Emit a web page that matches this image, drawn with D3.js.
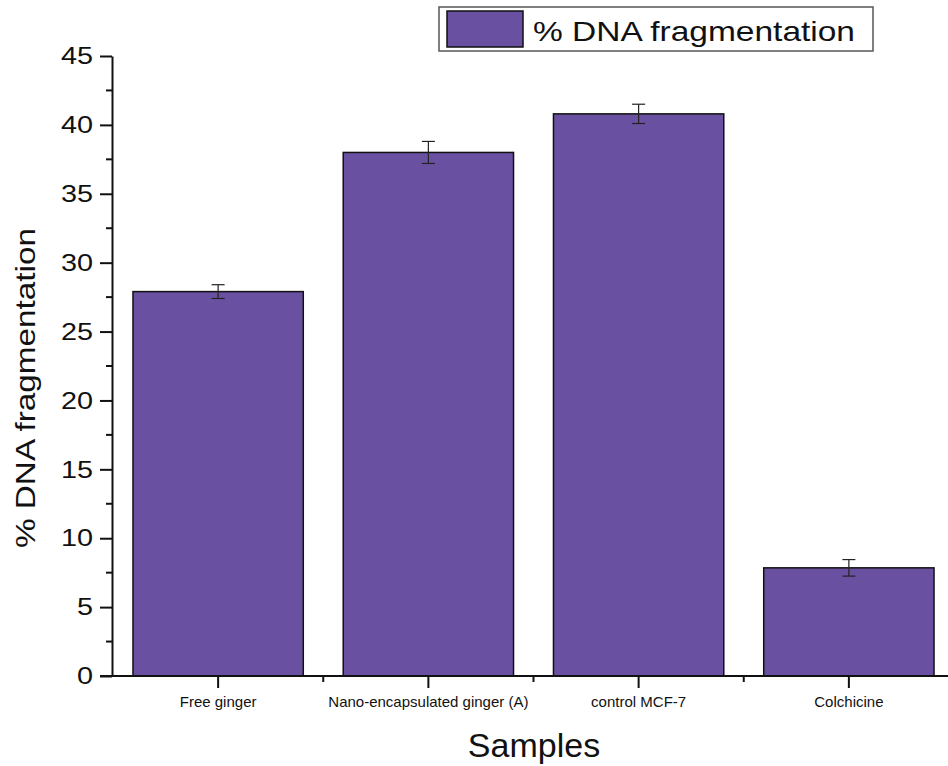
<!DOCTYPE html>
<html>
<head>
<meta charset="utf-8">
<script src="https://cdn.jsdelivr.net/npm/d3@7"></script>
<style>
  body { margin: 0; background: #fff; }
  text { font-family: "Liberation Sans", Arial, sans-serif; }
</style>
</head>
<body>
<svg id="chart" width="948" height="766"></svg>
<script>
// data
var samples = ["Free ginger", "Nano-encapsulated ginger (A)", "control MCF-7", "Colchicine"];
var fragmentation = [27.9, 38.0, 40.8, 7.85];
var errors = [0.5, 0.8, 0.7, 0.6];
var yTicks = [0, 5, 10, 15, 20, 25, 30, 35, 40, 45];
var seriesName = "% DNA fragmentation";

var svg = d3.select("#chart");
var barColor = "#6a50a1";

var x = d3.scaleBand()
    .domain(samples)
    .range([113, 954])
    .paddingInner(0.19)
    .paddingOuter(0.095);

var y = d3.scaleLinear()
    .domain([0, 45])
    .range([676, 56]);

var data = samples.map(function(s, i) { return {name: s, value: fragmentation[i], err: errors[i]}; });

// bars
svg.append("g")
  .selectAll("rect")
  .data(data)
  .enter().append("rect")
    .attr("x", function(d) { return x(d.name); })
    .attr("y", function(d) { return y(d.value); })
    .attr("width", x.bandwidth())
    .attr("height", function(d) { return y(0) - y(d.value); })
    .attr("fill", barColor)
    .attr("stroke", "#111")
    .attr("stroke-width", 1.5);

// error bars
var eb = svg.append("g").attr("stroke", "#222").attr("stroke-width", 1.2);
data.forEach(function(d) {
  var cx = x(d.name) + x.bandwidth() / 2;
  eb.append("line").attr("x1", cx).attr("x2", cx).attr("y1", y(d.value + d.err)).attr("y2", y(d.value - d.err));
  eb.append("line").attr("x1", cx - 6.5).attr("x2", cx + 6.5).attr("y1", y(d.value + d.err)).attr("y2", y(d.value + d.err));
  eb.append("line").attr("x1", cx - 6.5).attr("x2", cx + 6.5).attr("y1", y(d.value - d.err)).attr("y2", y(d.value - d.err));
});

// Y axis
var yAxis = svg.append("g")
    .attr("transform", "translate(112,0)")
    .call(d3.axisLeft(y).tickValues(yTicks).tickSize(12).tickPadding(7).tickSizeOuter(0));
yAxis.select(".domain").attr("stroke", "#111").attr("stroke-width", 2);
yAxis.selectAll(".tick line").attr("stroke", "#111").attr("stroke-width", 2);
// the figure's tick digits are drawn slightly wide
yAxis.selectAll(".tick text")
    .attr("font-size", 24).attr("fill", "#111")
    .attr("font-family", "'Liberation Sans', Arial, sans-serif")
    .attr("x", 0)
    .attr("transform", "translate(-19,0) scale(1.2,1)");

// minor y ticks
svg.append("g")
  .selectAll("line")
  .data(yTicks.slice(0, -1).map(function(t) { return t + 2.5; }))
  .enter().append("line")
    .attr("x1", 106).attr("x2", 112)
    .attr("y1", function(d) { return y(d); })
    .attr("y2", function(d) { return y(d); })
    .attr("stroke", "#111").attr("stroke-width", 2);

// X axis
var xAxis = svg.append("g")
    .attr("transform", "translate(0,676)")
    .call(d3.axisBottom(x).tickSize(12).tickPadding(8).tickSizeOuter(0));
xAxis.select(".domain").attr("stroke", "#111").attr("stroke-width", 2)
    .attr("d", "M100,0H948");
xAxis.selectAll(".tick line").attr("stroke", "#111").attr("stroke-width", 2);
xAxis.selectAll(".tick text").attr("font-size", 15).attr("fill", "#111")
    .attr("font-family", "'Liberation Sans', Arial, sans-serif");

// minor x ticks between categories
svg.append("g")
  .selectAll("line")
  .data(samples.slice(0, -1))
  .enter().append("line")
    .attr("x1", function(d) { return x(d) + x.step() - (x.step() - x.bandwidth()) / 2; })
    .attr("x2", function(d) { return x(d) + x.step() - (x.step() - x.bandwidth()) / 2; })
    .attr("y1", 676).attr("y2", 682)
    .attr("stroke", "#111").attr("stroke-width", 2);

// axis titles
svg.append("text")
    .attr("x", 534).attr("y", 757)
    .attr("text-anchor", "middle")
    .attr("font-size", 34)
    .attr("fill", "#111")
    .text("Samples");

svg.append("text")
    .attr("transform", "translate(35,388) rotate(-90)")
    .attr("text-anchor", "middle")
    .attr("font-size", 28)
    .attr("textLength", 320)
    .attr("lengthAdjust", "spacingAndGlyphs")
    .attr("fill", "#111")
    .text("% DNA fragmentation");

// legend
var legend = svg.append("g");
legend.append("rect")
    .attr("x", 439).attr("y", 7).attr("width", 434).attr("height", 44)
    .attr("fill", "#fff").attr("stroke", "#555").attr("stroke-width", 1.5);
legend.append("rect")
    .attr("x", 447).attr("y", 11).attr("width", 76).attr("height", 36)
    .attr("fill", barColor).attr("stroke", "#111").attr("stroke-width", 1.5);
legend.append("text")
    .attr("x", 533).attr("y", 40.5)
    .attr("font-size", 28)
    .attr("textLength", 322)
    .attr("lengthAdjust", "spacingAndGlyphs")
    .attr("fill", "#111")
    .text(seriesName);
</script>
</body>
</html>
